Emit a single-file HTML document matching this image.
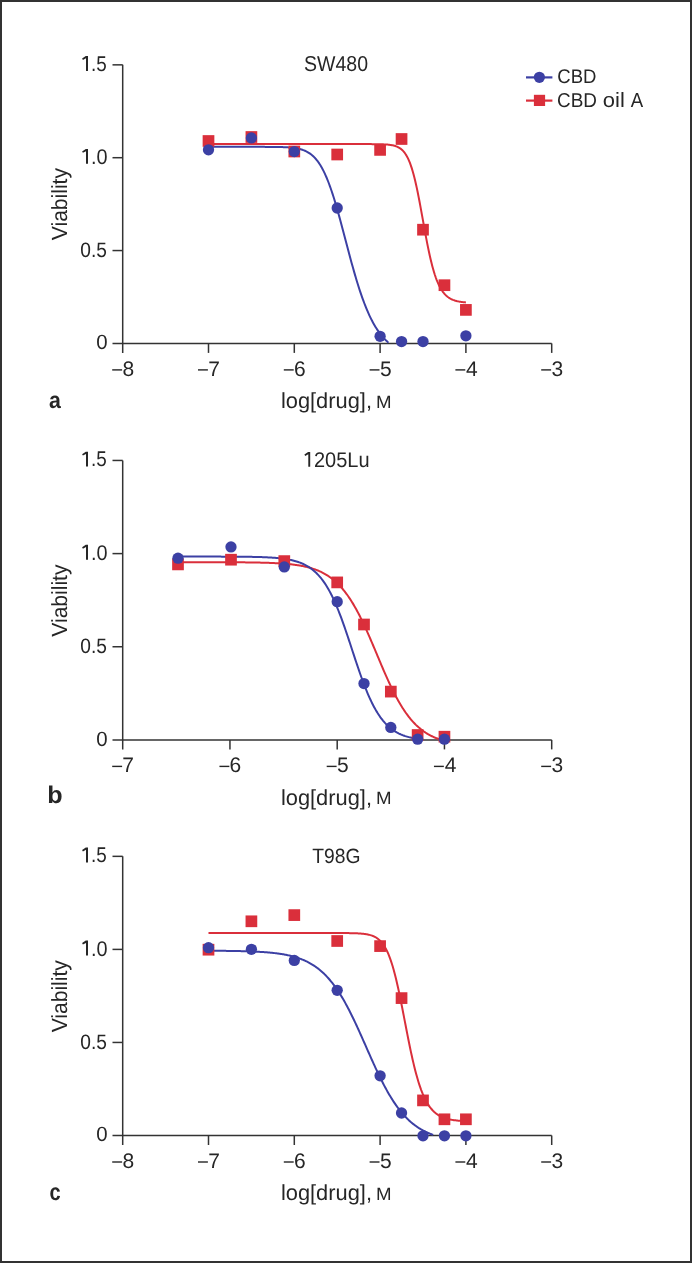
<!DOCTYPE html>
<html><head><meta charset="utf-8"><style>
html,body{margin:0;padding:0;background:#fff;}
body{width:692px;height:1263px;overflow:hidden;position:relative;}
.frame{position:absolute;left:0;top:0;width:692px;height:1263px;box-sizing:border-box;border:2px solid #323232;}
svg{position:absolute;left:0;top:0;transform:translateZ(0);}
text{font-family:"Liberation Sans",sans-serif;fill:#262626;text-rendering:geometricPrecision;}
</style></head><body>
<div class="frame"></div>
<svg width="692" height="1263" viewBox="0 0 692 1263">
<line x1="122.70" y1="64.85" x2="122.70" y2="352.90" stroke="#333333" stroke-width="1.5"/>
<line x1="112.50" y1="343.40" x2="551.70" y2="343.40" stroke="#333333" stroke-width="1.5"/>
<line x1="112.50" y1="250.55" x2="122.70" y2="250.55" stroke="#333333" stroke-width="1.5"/>
<line x1="112.50" y1="157.70" x2="122.70" y2="157.70" stroke="#333333" stroke-width="1.5"/>
<line x1="112.50" y1="64.85" x2="122.70" y2="64.85" stroke="#333333" stroke-width="1.5"/>
<line x1="208.50" y1="343.40" x2="208.50" y2="352.90" stroke="#333333" stroke-width="1.5"/>
<line x1="294.30" y1="343.40" x2="294.30" y2="352.90" stroke="#333333" stroke-width="1.5"/>
<line x1="380.10" y1="343.40" x2="380.10" y2="352.90" stroke="#333333" stroke-width="1.5"/>
<line x1="465.90" y1="343.40" x2="465.90" y2="352.90" stroke="#333333" stroke-width="1.5"/>
<line x1="551.70" y1="343.40" x2="551.70" y2="352.90" stroke="#333333" stroke-width="1.5"/>
<path d="M208.50,144.09 L209.36,144.09 L210.22,144.09 L211.08,144.09 L211.94,144.09 L212.80,144.09 L213.67,144.09 L214.53,144.09 L215.39,144.09 L216.25,144.09 L217.11,144.09 L217.97,144.09 L218.83,144.09 L219.69,144.09 L220.55,144.09 L221.41,144.09 L222.27,144.09 L223.13,144.09 L224.00,144.09 L224.86,144.09 L225.72,144.09 L226.58,144.09 L227.44,144.09 L228.30,144.09 L229.16,144.09 L230.02,144.09 L230.88,144.09 L231.74,144.09 L232.60,144.09 L233.47,144.09 L234.33,144.09 L235.19,144.09 L236.05,144.09 L236.91,144.09 L237.77,144.09 L238.63,144.09 L239.49,144.09 L240.35,144.09 L241.21,144.09 L242.07,144.09 L242.93,144.09 L243.80,144.09 L244.66,144.09 L245.52,144.09 L246.38,144.09 L247.24,144.09 L248.10,144.09 L248.96,144.09 L249.82,144.09 L250.68,144.09 L251.54,144.09 L252.40,144.09 L253.27,144.09 L254.13,144.09 L254.99,144.09 L255.85,144.09 L256.71,144.09 L257.57,144.09 L258.43,144.09 L259.29,144.09 L260.15,144.09 L261.01,144.09 L261.87,144.09 L262.73,144.09 L263.60,144.09 L264.46,144.09 L265.32,144.09 L266.18,144.09 L267.04,144.09 L267.90,144.09 L268.76,144.09 L269.62,144.09 L270.48,144.09 L271.34,144.09 L272.20,144.09 L273.07,144.09 L273.93,144.09 L274.79,144.09 L275.65,144.09 L276.51,144.09 L277.37,144.09 L278.23,144.09 L279.09,144.09 L279.95,144.09 L280.81,144.09 L281.67,144.09 L282.53,144.09 L283.40,144.09 L284.26,144.09 L285.12,144.09 L285.98,144.09 L286.84,144.09 L287.70,144.09 L288.56,144.09 L289.42,144.09 L290.28,144.09 L291.14,144.09 L292.00,144.09 L292.87,144.09 L293.73,144.09 L294.59,144.09 L295.45,144.09 L296.31,144.09 L297.17,144.09 L298.03,144.09 L298.89,144.09 L299.75,144.09 L300.61,144.09 L301.47,144.09 L302.33,144.09 L303.20,144.09 L304.06,144.09 L304.92,144.09 L305.78,144.09 L306.64,144.09 L307.50,144.09 L308.36,144.09 L309.22,144.09 L310.08,144.09 L310.94,144.09 L311.80,144.09 L312.67,144.09 L313.53,144.09 L314.39,144.09 L315.25,144.09 L316.11,144.09 L316.97,144.09 L317.83,144.09 L318.69,144.09 L319.55,144.09 L320.41,144.09 L321.27,144.09 L322.13,144.09 L323.00,144.09 L323.86,144.09 L324.72,144.09 L325.58,144.09 L326.44,144.09 L327.30,144.09 L328.16,144.09 L329.02,144.09 L329.88,144.09 L330.74,144.09 L331.60,144.09 L332.47,144.09 L333.33,144.09 L334.19,144.09 L335.05,144.09 L335.91,144.09 L336.77,144.09 L337.63,144.09 L338.49,144.09 L339.35,144.09 L340.21,144.09 L341.07,144.09 L341.93,144.09 L342.80,144.09 L343.66,144.09 L344.52,144.09 L345.38,144.09 L346.24,144.09 L347.10,144.09 L347.96,144.09 L348.82,144.09 L349.68,144.09 L350.54,144.09 L351.40,144.09 L352.27,144.09 L353.13,144.09 L353.99,144.09 L354.85,144.09 L355.71,144.09 L356.57,144.09 L357.43,144.09 L358.29,144.09 L359.15,144.09 L360.01,144.09 L360.87,144.09 L361.73,144.10 L362.60,144.10 L363.46,144.10 L364.32,144.10 L365.18,144.10 L366.04,144.10 L366.90,144.10 L367.76,144.11 L368.62,144.11 L369.48,144.11 L370.34,144.12 L371.20,144.12 L372.07,144.13 L372.93,144.13 L373.79,144.14 L374.65,144.15 L375.51,144.16 L376.37,144.17 L377.23,144.18 L378.09,144.19 L378.95,144.21 L379.81,144.23 L380.67,144.25 L381.53,144.28 L382.40,144.30 L383.26,144.34 L384.12,144.38 L384.98,144.43 L385.84,144.48 L386.70,144.54 L387.56,144.61 L388.42,144.69 L389.28,144.79 L390.14,144.90 L391.00,145.03 L391.87,145.17 L392.73,145.34 L393.59,145.54 L394.45,145.77 L395.31,146.02 L396.17,146.32 L397.03,146.66 L397.89,147.06 L398.75,147.51 L399.61,148.02 L400.47,148.61 L401.33,149.27 L402.20,150.03 L403.06,150.90 L403.92,151.87 L404.78,152.97 L405.64,154.21 L406.50,155.61 L407.36,157.17 L408.22,158.90 L409.08,160.83 L409.94,162.96 L410.80,165.31 L411.67,167.88 L412.53,170.68 L413.39,173.71 L414.25,176.98 L415.11,180.48 L415.97,184.20 L416.83,188.14 L417.69,192.27 L418.55,196.58 L419.41,201.05 L420.27,205.64 L421.13,210.33 L422.00,215.08 L422.86,219.86 L423.72,224.64 L424.58,229.38 L425.44,234.06 L426.30,238.63 L427.16,243.08 L428.02,247.39 L428.88,251.53 L429.74,255.48 L430.60,259.24 L431.47,262.80 L432.33,266.15 L433.19,269.29 L434.05,272.22 L434.91,274.95 L435.77,277.47 L436.63,279.81 L437.49,281.96 L438.35,283.94 L439.21,285.75 L440.07,287.41 L440.93,288.92 L441.80,290.30 L442.66,291.55 L443.52,292.68 L444.38,293.71 L445.24,294.65 L446.10,295.49 L446.96,296.25 L447.82,296.94 L448.68,297.56 L449.54,298.12 L450.40,298.62 L451.27,299.07 L452.13,299.48 L452.99,299.85 L453.85,300.17 L454.71,300.47 L455.57,300.73 L456.43,300.97 L457.29,301.19 L458.15,301.38 L459.01,301.55 L459.87,301.70 L460.73,301.84 L461.60,301.96 L462.46,302.08 L463.32,302.17 L464.18,302.26 L465.04,302.34 L465.90,302.41" fill="none" stroke="#da2f3b" stroke-width="2.0" stroke-linejoin="round"/>
<path d="M208.50,146.85 L209.36,146.85 L210.22,146.85 L211.08,146.85 L211.94,146.85 L212.80,146.85 L213.67,146.85 L214.53,146.85 L215.39,146.85 L216.25,146.85 L217.11,146.85 L217.97,146.85 L218.83,146.85 L219.69,146.85 L220.55,146.85 L221.41,146.85 L222.27,146.85 L223.13,146.85 L224.00,146.85 L224.86,146.85 L225.72,146.85 L226.58,146.85 L227.44,146.85 L228.30,146.85 L229.16,146.85 L230.02,146.85 L230.88,146.85 L231.74,146.85 L232.60,146.85 L233.47,146.85 L234.33,146.85 L235.19,146.85 L236.05,146.85 L236.91,146.85 L237.77,146.85 L238.63,146.85 L239.49,146.85 L240.35,146.85 L241.21,146.85 L242.07,146.85 L242.93,146.85 L243.80,146.85 L244.66,146.85 L245.52,146.85 L246.38,146.85 L247.24,146.85 L248.10,146.85 L248.96,146.85 L249.82,146.85 L250.68,146.85 L251.54,146.85 L252.40,146.85 L253.27,146.85 L254.13,146.85 L254.99,146.85 L255.85,146.86 L256.71,146.86 L257.57,146.86 L258.43,146.86 L259.29,146.86 L260.15,146.86 L261.01,146.86 L261.87,146.87 L262.73,146.87 L263.60,146.87 L264.46,146.87 L265.32,146.88 L266.18,146.88 L267.04,146.88 L267.90,146.89 L268.76,146.89 L269.62,146.90 L270.48,146.91 L271.34,146.91 L272.20,146.92 L273.07,146.93 L273.93,146.94 L274.79,146.95 L275.65,146.96 L276.51,146.97 L277.37,146.99 L278.23,147.00 L279.09,147.02 L279.95,147.04 L280.81,147.07 L281.67,147.09 L282.53,147.12 L283.40,147.15 L284.26,147.18 L285.12,147.22 L285.98,147.26 L286.84,147.31 L287.70,147.36 L288.56,147.42 L289.42,147.49 L290.28,147.56 L291.14,147.63 L292.00,147.72 L292.87,147.82 L293.73,147.92 L294.59,148.04 L295.45,148.17 L296.31,148.31 L297.17,148.46 L298.03,148.64 L298.89,148.82 L299.75,149.03 L300.61,149.26 L301.47,149.51 L302.33,149.78 L303.20,150.08 L304.06,150.40 L304.92,150.76 L305.78,151.15 L306.64,151.57 L307.50,152.03 L308.36,152.53 L309.22,153.07 L310.08,153.66 L310.94,154.29 L311.80,154.98 L312.67,155.72 L313.53,156.52 L314.39,157.38 L315.25,158.30 L316.11,159.28 L316.97,160.34 L317.83,161.47 L318.69,162.67 L319.55,163.96 L320.41,165.32 L321.27,166.76 L322.13,168.29 L323.00,169.91 L323.86,171.62 L324.72,173.41 L325.58,175.30 L326.44,177.27 L327.30,179.34 L328.16,181.50 L329.02,183.74 L329.88,186.08 L330.74,188.51 L331.60,191.01 L332.47,193.61 L333.33,196.28 L334.19,199.03 L335.05,201.85 L335.91,204.73 L336.77,207.69 L337.63,210.70 L338.49,213.76 L339.35,216.87 L340.21,220.03 L341.07,223.22 L341.93,226.44 L342.80,229.69 L343.66,232.95 L344.52,236.23 L345.38,239.51 L346.24,242.79 L347.10,246.06 L347.96,249.33 L348.82,252.57 L349.68,255.79 L350.54,258.99 L351.40,262.15 L352.27,265.27 L353.13,268.35 L353.99,271.39 L354.85,274.37 L355.71,277.31 L356.57,280.19 L357.43,283.00 L358.29,285.76 L359.15,288.46 L360.01,291.09 L360.87,293.65 L361.73,296.15 L362.60,298.58 L363.46,300.94 L364.32,303.23 L365.18,305.45 L366.04,307.61 L366.90,309.69 L367.76,311.71 L368.62,313.65 L369.48,315.54 L370.34,317.35 L371.20,319.10 L372.07,320.79 L372.93,322.41 L373.79,323.98 L374.65,325.48 L375.51,326.92 L376.37,328.31 L377.23,329.64 L378.09,330.92 L378.95,332.15 L379.81,333.32 L380.67,334.45 L381.53,335.53 L382.40,336.56 L383.26,337.55 L384.12,338.50 L384.98,339.40 L385.84,340.27 L386.70,341.09 L387.56,341.88 L388.42,342.64" fill="none" stroke="#3c40a4" stroke-width="2.0" stroke-linejoin="round"/>
<rect x="202.65" y="135.15" width="11.7" height="11.7" fill="#da2f3b"/>
<rect x="245.55" y="131.15" width="11.7" height="11.7" fill="#da2f3b"/>
<rect x="288.45" y="145.65" width="11.7" height="11.7" fill="#da2f3b"/>
<rect x="331.35" y="148.65" width="11.7" height="11.7" fill="#da2f3b"/>
<rect x="374.25" y="144.05" width="11.7" height="11.7" fill="#da2f3b"/>
<rect x="395.70" y="133.15" width="11.7" height="11.7" fill="#da2f3b"/>
<rect x="417.15" y="223.85" width="11.7" height="11.7" fill="#da2f3b"/>
<rect x="438.60" y="279.35" width="11.7" height="11.7" fill="#da2f3b"/>
<rect x="460.05" y="304.05" width="11.7" height="11.7" fill="#da2f3b"/>
<circle cx="208.50" cy="149.80" r="5.65" fill="#3c40a4"/>
<circle cx="251.40" cy="137.90" r="5.65" fill="#3c40a4"/>
<circle cx="294.30" cy="151.60" r="5.65" fill="#3c40a4"/>
<circle cx="337.20" cy="208.00" r="5.65" fill="#3c40a4"/>
<circle cx="380.10" cy="336.30" r="5.65" fill="#3c40a4"/>
<circle cx="401.55" cy="341.60" r="5.65" fill="#3c40a4"/>
<circle cx="423.00" cy="341.60" r="5.65" fill="#3c40a4"/>
<circle cx="465.90" cy="335.80" r="5.65" fill="#3c40a4"/>
<path d="M85.80,148.90 L88.00,148.90 L88.00,163.80 L86.00,163.80 L86.00,151.20 L82.90,152.80 L82.10,151.40 Z" fill="#262626"/>
<path d="M85.80,56.05 L88.00,56.05 L88.00,70.95 L86.00,70.95 L86.00,58.35 L82.90,59.95 L82.10,58.55 Z" fill="#262626"/>
<rect x="112.20" y="369.20" width="9.9" height="1.4" fill="#262626"/>
<rect x="198.00" y="369.20" width="9.9" height="1.4" fill="#262626"/>
<rect x="283.80" y="369.20" width="9.9" height="1.4" fill="#262626"/>
<rect x="369.60" y="369.20" width="9.9" height="1.4" fill="#262626"/>
<rect x="455.40" y="369.20" width="9.9" height="1.4" fill="#262626"/>
<rect x="541.20" y="369.20" width="9.9" height="1.4" fill="#262626"/>
<line x1="122.70" y1="460.45" x2="122.70" y2="749.40" stroke="#333333" stroke-width="1.5"/>
<line x1="112.50" y1="739.90" x2="551.70" y2="739.90" stroke="#333333" stroke-width="1.5"/>
<line x1="112.50" y1="646.75" x2="122.70" y2="646.75" stroke="#333333" stroke-width="1.5"/>
<line x1="112.50" y1="553.60" x2="122.70" y2="553.60" stroke="#333333" stroke-width="1.5"/>
<line x1="112.50" y1="460.45" x2="122.70" y2="460.45" stroke="#333333" stroke-width="1.5"/>
<line x1="229.95" y1="739.90" x2="229.95" y2="749.40" stroke="#333333" stroke-width="1.5"/>
<line x1="337.20" y1="739.90" x2="337.20" y2="749.40" stroke="#333333" stroke-width="1.5"/>
<line x1="444.45" y1="739.90" x2="444.45" y2="749.40" stroke="#333333" stroke-width="1.5"/>
<line x1="551.70" y1="739.90" x2="551.70" y2="749.40" stroke="#333333" stroke-width="1.5"/>
<path d="M178.00,562.17 L178.89,562.17 L179.78,562.17 L180.67,562.17 L181.56,562.17 L182.46,562.17 L183.35,562.17 L184.24,562.17 L185.13,562.17 L186.02,562.17 L186.91,562.17 L187.80,562.17 L188.69,562.17 L189.58,562.17 L190.48,562.18 L191.37,562.18 L192.26,562.18 L193.15,562.18 L194.04,562.18 L194.93,562.18 L195.82,562.18 L196.71,562.18 L197.61,562.18 L198.50,562.18 L199.39,562.18 L200.28,562.18 L201.17,562.18 L202.06,562.19 L202.95,562.19 L203.84,562.19 L204.73,562.19 L205.63,562.19 L206.52,562.19 L207.41,562.19 L208.30,562.19 L209.19,562.20 L210.08,562.20 L210.97,562.20 L211.86,562.20 L212.75,562.20 L213.65,562.20 L214.54,562.21 L215.43,562.21 L216.32,562.21 L217.21,562.21 L218.10,562.21 L218.99,562.22 L219.88,562.22 L220.77,562.22 L221.67,562.22 L222.56,562.23 L223.45,562.23 L224.34,562.23 L225.23,562.24 L226.12,562.24 L227.01,562.24 L227.90,562.25 L228.79,562.25 L229.69,562.26 L230.58,562.26 L231.47,562.27 L232.36,562.27 L233.25,562.28 L234.14,562.28 L235.03,562.29 L235.92,562.29 L236.82,562.30 L237.71,562.30 L238.60,562.31 L239.49,562.32 L240.38,562.33 L241.27,562.33 L242.16,562.34 L243.05,562.35 L243.94,562.36 L244.84,562.37 L245.73,562.38 L246.62,562.39 L247.51,562.40 L248.40,562.41 L249.29,562.42 L250.18,562.43 L251.07,562.44 L251.96,562.46 L252.86,562.47 L253.75,562.49 L254.64,562.50 L255.53,562.52 L256.42,562.53 L257.31,562.55 L258.20,562.57 L259.09,562.59 L259.98,562.61 L260.88,562.63 L261.77,562.65 L262.66,562.67 L263.55,562.70 L264.44,562.72 L265.33,562.75 L266.22,562.78 L267.11,562.80 L268.00,562.83 L268.90,562.87 L269.79,562.90 L270.68,562.93 L271.57,562.97 L272.46,563.01 L273.35,563.05 L274.24,563.09 L275.13,563.13 L276.03,563.17 L276.92,563.22 L277.81,563.27 L278.70,563.32 L279.59,563.38 L280.48,563.43 L281.37,563.49 L282.26,563.55 L283.15,563.62 L284.05,563.69 L284.94,563.76 L285.83,563.83 L286.72,563.91 L287.61,563.99 L288.50,564.08 L289.39,564.16 L290.28,564.26 L291.17,564.35 L292.07,564.46 L292.96,564.56 L293.85,564.67 L294.74,564.79 L295.63,564.91 L296.52,565.04 L297.41,565.17 L298.30,565.31 L299.19,565.45 L300.09,565.60 L300.98,565.76 L301.87,565.93 L302.76,566.10 L303.65,566.28 L304.54,566.47 L305.43,566.67 L306.32,566.87 L307.21,567.09 L308.11,567.31 L309.00,567.55 L309.89,567.79 L310.78,568.05 L311.67,568.32 L312.56,568.60 L313.45,568.89 L314.34,569.19 L315.24,569.51 L316.13,569.84 L317.02,570.18 L317.91,570.54 L318.80,570.92 L319.69,571.31 L320.58,571.71 L321.47,572.14 L322.36,572.58 L323.26,573.04 L324.15,573.52 L325.04,574.02 L325.93,574.54 L326.82,575.08 L327.71,575.64 L328.60,576.23 L329.49,576.84 L330.38,577.47 L331.28,578.13 L332.17,578.81 L333.06,579.52 L333.95,580.25 L334.84,581.02 L335.73,581.81 L336.62,582.63 L337.51,583.48 L338.40,584.36 L339.30,585.28 L340.19,586.22 L341.08,587.20 L341.97,588.21 L342.86,589.26 L343.75,590.34 L344.64,591.45 L345.53,592.60 L346.42,593.79 L347.32,595.02 L348.21,596.28 L349.10,597.57 L349.99,598.91 L350.88,600.28 L351.77,601.69 L352.66,603.14 L353.55,604.63 L354.45,606.15 L355.34,607.71 L356.23,609.31 L357.12,610.94 L358.01,612.61 L358.90,614.32 L359.79,616.06 L360.68,617.83 L361.57,619.64 L362.47,621.48 L363.36,623.35 L364.25,625.25 L365.14,627.17 L366.03,629.13 L366.92,631.10 L367.81,633.11 L368.70,635.13 L369.59,637.17 L370.49,639.23 L371.38,641.31 L372.27,643.40 L373.16,645.50 L374.05,647.61 L374.94,649.73 L375.83,651.85 L376.72,653.97 L377.61,656.10 L378.51,658.22 L379.40,660.34 L380.29,662.46 L381.18,664.56 L382.07,666.66 L382.96,668.74 L383.85,670.81 L384.74,672.85 L385.63,674.89 L386.53,676.89 L387.42,678.88 L388.31,680.84 L389.20,682.78 L390.09,684.69 L390.98,686.57 L391.87,688.42 L392.76,690.24 L393.66,692.02 L394.55,693.78 L395.44,695.49 L396.33,697.18 L397.22,698.82 L398.11,700.43 L399.00,702.00 L399.89,703.54 L400.78,705.04 L401.68,706.50 L402.57,707.92 L403.46,709.30 L404.35,710.65 L405.24,711.96 L406.13,713.23 L407.02,714.46 L407.91,715.66 L408.80,716.82 L409.70,717.95 L410.59,719.04 L411.48,720.09 L412.37,721.11 L413.26,722.09 L414.15,723.05 L415.04,723.97 L415.93,724.86 L416.82,725.71 L417.72,726.54 L418.61,727.34 L419.50,728.10 L420.39,728.85 L421.28,729.56 L422.17,730.24 L423.06,730.90 L423.95,731.54 L424.84,732.15 L425.74,732.74 L426.63,733.30 L427.52,733.85 L428.41,734.37 L429.30,734.87 L430.19,735.35 L431.08,735.81 L431.97,736.25 L432.87,736.68 L433.76,737.09 L434.65,737.48 L435.54,737.85 L436.43,738.21 L437.32,738.55 L438.21,738.88 L439.10,739.20 L439.99,739.50" fill="none" stroke="#da2f3b" stroke-width="2.0" stroke-linejoin="round"/>
<path d="M178.00,556.59 L178.89,556.59 L179.78,556.59 L180.67,556.59 L181.56,556.59 L182.46,556.59 L183.35,556.59 L184.24,556.59 L185.13,556.59 L186.02,556.59 L186.91,556.59 L187.80,556.59 L188.69,556.59 L189.58,556.59 L190.48,556.59 L191.37,556.59 L192.26,556.59 L193.15,556.59 L194.04,556.59 L194.93,556.59 L195.82,556.59 L196.71,556.59 L197.61,556.59 L198.50,556.59 L199.39,556.60 L200.28,556.60 L201.17,556.60 L202.06,556.60 L202.95,556.60 L203.84,556.60 L204.73,556.60 L205.63,556.60 L206.52,556.60 L207.41,556.60 L208.30,556.60 L209.19,556.60 L210.08,556.60 L210.97,556.61 L211.86,556.61 L212.75,556.61 L213.65,556.61 L214.54,556.61 L215.43,556.61 L216.32,556.61 L217.21,556.62 L218.10,556.62 L218.99,556.62 L219.88,556.62 L220.77,556.62 L221.67,556.63 L222.56,556.63 L223.45,556.63 L224.34,556.63 L225.23,556.64 L226.12,556.64 L227.01,556.64 L227.90,556.65 L228.79,556.65 L229.69,556.65 L230.58,556.66 L231.47,556.66 L232.36,556.67 L233.25,556.67 L234.14,556.68 L235.03,556.68 L235.92,556.69 L236.82,556.69 L237.71,556.70 L238.60,556.71 L239.49,556.71 L240.38,556.72 L241.27,556.73 L242.16,556.74 L243.05,556.75 L243.94,556.76 L244.84,556.76 L245.73,556.78 L246.62,556.79 L247.51,556.80 L248.40,556.81 L249.29,556.82 L250.18,556.84 L251.07,556.85 L251.96,556.87 L252.86,556.89 L253.75,556.90 L254.64,556.92 L255.53,556.94 L256.42,556.96 L257.31,556.99 L258.20,557.01 L259.09,557.03 L259.98,557.06 L260.88,557.09 L261.77,557.12 L262.66,557.15 L263.55,557.18 L264.44,557.22 L265.33,557.25 L266.22,557.29 L267.11,557.33 L268.00,557.38 L268.90,557.43 L269.79,557.47 L270.68,557.53 L271.57,557.58 L272.46,557.64 L273.35,557.70 L274.24,557.77 L275.13,557.84 L276.03,557.91 L276.92,557.99 L277.81,558.07 L278.70,558.16 L279.59,558.25 L280.48,558.35 L281.37,558.45 L282.26,558.56 L283.15,558.67 L284.05,558.80 L284.94,558.92 L285.83,559.06 L286.72,559.21 L287.61,559.36 L288.50,559.52 L289.39,559.69 L290.28,559.87 L291.17,560.06 L292.07,560.26 L292.96,560.48 L293.85,560.70 L294.74,560.94 L295.63,561.19 L296.52,561.45 L297.41,561.74 L298.30,562.03 L299.19,562.34 L300.09,562.67 L300.98,563.02 L301.87,563.39 L302.76,563.78 L303.65,564.19 L304.54,564.62 L305.43,565.07 L306.32,565.55 L307.21,566.06 L308.11,566.59 L309.00,567.15 L309.89,567.74 L310.78,568.36 L311.67,569.01 L312.56,569.70 L313.45,570.42 L314.34,571.18 L315.24,571.97 L316.13,572.81 L317.02,573.69 L317.91,574.61 L318.80,575.57 L319.69,576.58 L320.58,577.64 L321.47,578.74 L322.36,579.90 L323.26,581.11 L324.15,582.37 L325.04,583.68 L325.93,585.05 L326.82,586.48 L327.71,587.97 L328.60,589.51 L329.49,591.12 L330.38,592.78 L331.28,594.51 L332.17,596.30 L333.06,598.14 L333.95,600.05 L334.84,602.02 L335.73,604.05 L336.62,606.15 L337.51,608.29 L338.40,610.50 L339.30,612.76 L340.19,615.08 L341.08,617.45 L341.97,619.86 L342.86,622.33 L343.75,624.83 L344.64,627.38 L345.53,629.96 L346.42,632.57 L347.32,635.22 L348.21,637.89 L349.10,640.58 L349.99,643.28 L350.88,646.00 L351.77,648.72 L352.66,651.44 L353.55,654.16 L354.45,656.87 L355.34,659.57 L356.23,662.26 L357.12,664.92 L358.01,667.55 L358.90,670.16 L359.79,672.73 L360.68,675.26 L361.57,677.75 L362.47,680.20 L363.36,682.59 L364.25,684.94 L365.14,687.23 L366.03,689.47 L366.92,691.66 L367.81,693.78 L368.70,695.84 L369.59,697.85 L370.49,699.79 L371.38,701.67 L372.27,703.48 L373.16,705.24 L374.05,706.93 L374.94,708.56 L375.83,710.13 L376.72,711.63 L377.61,713.08 L378.51,714.47 L379.40,715.80 L380.29,717.08 L381.18,718.30 L382.07,719.47 L382.96,720.59 L383.85,721.65 L384.74,722.67 L385.63,723.64 L386.53,724.56 L387.42,725.44 L388.31,726.28 L389.20,727.07 L390.09,727.83 L390.98,728.55 L391.87,729.23 L392.76,729.88 L393.66,730.50 L394.55,731.08 L395.44,731.64 L396.33,732.16 L397.22,732.66 L398.11,733.13 L399.00,733.58 L399.89,734.00 L400.78,734.40 L401.68,734.78 L402.57,735.14 L403.46,735.47 L404.35,735.79 L405.24,736.10 L406.13,736.38 L407.02,736.65 L407.91,736.91 L408.80,737.15 L409.70,737.38 L410.59,737.59 L411.48,737.79 L412.37,737.99 L413.26,738.17 L414.15,738.34 L415.04,738.50 L415.93,738.65 L416.82,738.79 L417.72,738.93 L418.61,739.06 L419.50,739.18 L420.39,739.29 L421.28,739.40 L422.17,739.50 L423.06,739.59" fill="none" stroke="#3c40a4" stroke-width="2.0" stroke-linejoin="round"/>
<rect x="172.15" y="558.55" width="11.7" height="11.7" fill="#da2f3b"/>
<rect x="225.15" y="553.85" width="11.7" height="11.7" fill="#da2f3b"/>
<rect x="278.45" y="555.25" width="11.7" height="11.7" fill="#da2f3b"/>
<rect x="331.35" y="576.55" width="11.7" height="11.7" fill="#da2f3b"/>
<rect x="358.16" y="618.65" width="11.7" height="11.7" fill="#da2f3b"/>
<rect x="384.98" y="685.75" width="11.7" height="11.7" fill="#da2f3b"/>
<rect x="411.79" y="729.15" width="11.7" height="11.7" fill="#da2f3b"/>
<rect x="438.60" y="730.85" width="11.7" height="11.7" fill="#da2f3b"/>
<circle cx="178.00" cy="558.20" r="5.65" fill="#3c40a4"/>
<circle cx="231.00" cy="546.90" r="5.65" fill="#3c40a4"/>
<circle cx="284.30" cy="566.90" r="5.65" fill="#3c40a4"/>
<circle cx="337.20" cy="601.70" r="5.65" fill="#3c40a4"/>
<circle cx="364.01" cy="683.60" r="5.65" fill="#3c40a4"/>
<circle cx="390.83" cy="727.40" r="5.65" fill="#3c40a4"/>
<circle cx="417.64" cy="739.20" r="5.65" fill="#3c40a4"/>
<circle cx="444.45" cy="739.20" r="5.65" fill="#3c40a4"/>
<path d="M85.80,544.80 L88.00,544.80 L88.00,559.70 L86.00,559.70 L86.00,547.10 L82.90,548.70 L82.10,547.30 Z" fill="#262626"/>
<path d="M85.80,451.65 L88.00,451.65 L88.00,466.55 L86.00,466.55 L86.00,453.95 L82.90,455.55 L82.10,454.15 Z" fill="#262626"/>
<rect x="112.20" y="765.70" width="9.9" height="1.4" fill="#262626"/>
<rect x="219.45" y="765.70" width="9.9" height="1.4" fill="#262626"/>
<rect x="326.70" y="765.70" width="9.9" height="1.4" fill="#262626"/>
<rect x="433.95" y="765.70" width="9.9" height="1.4" fill="#262626"/>
<rect x="541.20" y="765.70" width="9.9" height="1.4" fill="#262626"/>
<path d="M308.10,452.00 L310.20,452.00 L310.20,466.80 L308.30,466.80 L308.30,454.30 L305.20,455.90 L304.40,454.50 Z" fill="#262626"/>
<line x1="122.70" y1="856.35" x2="122.70" y2="1145.00" stroke="#333333" stroke-width="1.5"/>
<line x1="112.50" y1="1135.50" x2="551.70" y2="1135.50" stroke="#333333" stroke-width="1.5"/>
<line x1="112.50" y1="1042.45" x2="122.70" y2="1042.45" stroke="#333333" stroke-width="1.5"/>
<line x1="112.50" y1="949.40" x2="122.70" y2="949.40" stroke="#333333" stroke-width="1.5"/>
<line x1="112.50" y1="856.35" x2="122.70" y2="856.35" stroke="#333333" stroke-width="1.5"/>
<line x1="208.50" y1="1135.50" x2="208.50" y2="1145.00" stroke="#333333" stroke-width="1.5"/>
<line x1="294.30" y1="1135.50" x2="294.30" y2="1145.00" stroke="#333333" stroke-width="1.5"/>
<line x1="380.10" y1="1135.50" x2="380.10" y2="1145.00" stroke="#333333" stroke-width="1.5"/>
<line x1="465.90" y1="1135.50" x2="465.90" y2="1145.00" stroke="#333333" stroke-width="1.5"/>
<line x1="551.70" y1="1135.50" x2="551.70" y2="1145.00" stroke="#333333" stroke-width="1.5"/>
<path d="M208.50,933.02 L209.36,933.02 L210.22,933.02 L211.08,933.02 L211.94,933.02 L212.80,933.02 L213.67,933.02 L214.53,933.02 L215.39,933.02 L216.25,933.02 L217.11,933.02 L217.97,933.02 L218.83,933.02 L219.69,933.02 L220.55,933.02 L221.41,933.02 L222.27,933.02 L223.13,933.02 L224.00,933.02 L224.86,933.02 L225.72,933.02 L226.58,933.02 L227.44,933.02 L228.30,933.02 L229.16,933.02 L230.02,933.02 L230.88,933.02 L231.74,933.02 L232.60,933.02 L233.47,933.02 L234.33,933.02 L235.19,933.02 L236.05,933.02 L236.91,933.02 L237.77,933.02 L238.63,933.02 L239.49,933.02 L240.35,933.02 L241.21,933.02 L242.07,933.02 L242.93,933.02 L243.80,933.02 L244.66,933.02 L245.52,933.02 L246.38,933.02 L247.24,933.02 L248.10,933.02 L248.96,933.02 L249.82,933.02 L250.68,933.02 L251.54,933.02 L252.40,933.02 L253.27,933.02 L254.13,933.02 L254.99,933.02 L255.85,933.02 L256.71,933.02 L257.57,933.02 L258.43,933.02 L259.29,933.02 L260.15,933.02 L261.01,933.02 L261.87,933.02 L262.73,933.02 L263.60,933.02 L264.46,933.02 L265.32,933.02 L266.18,933.02 L267.04,933.02 L267.90,933.02 L268.76,933.02 L269.62,933.02 L270.48,933.02 L271.34,933.02 L272.20,933.02 L273.07,933.02 L273.93,933.02 L274.79,933.02 L275.65,933.02 L276.51,933.02 L277.37,933.02 L278.23,933.02 L279.09,933.02 L279.95,933.02 L280.81,933.02 L281.67,933.02 L282.53,933.02 L283.40,933.02 L284.26,933.02 L285.12,933.02 L285.98,933.02 L286.84,933.02 L287.70,933.02 L288.56,933.02 L289.42,933.02 L290.28,933.02 L291.14,933.02 L292.00,933.02 L292.87,933.02 L293.73,933.02 L294.59,933.02 L295.45,933.02 L296.31,933.02 L297.17,933.02 L298.03,933.02 L298.89,933.02 L299.75,933.02 L300.61,933.02 L301.47,933.02 L302.33,933.02 L303.20,933.02 L304.06,933.02 L304.92,933.02 L305.78,933.02 L306.64,933.02 L307.50,933.02 L308.36,933.02 L309.22,933.02 L310.08,933.02 L310.94,933.02 L311.80,933.02 L312.67,933.02 L313.53,933.02 L314.39,933.02 L315.25,933.02 L316.11,933.02 L316.97,933.02 L317.83,933.02 L318.69,933.02 L319.55,933.02 L320.41,933.03 L321.27,933.03 L322.13,933.03 L323.00,933.03 L323.86,933.03 L324.72,933.03 L325.58,933.03 L326.44,933.03 L327.30,933.03 L328.16,933.03 L329.02,933.03 L329.88,933.03 L330.74,933.03 L331.60,933.03 L332.47,933.03 L333.33,933.03 L334.19,933.04 L335.05,933.04 L335.91,933.04 L336.77,933.04 L337.63,933.04 L338.49,933.05 L339.35,933.05 L340.21,933.05 L341.07,933.06 L341.93,933.06 L342.80,933.06 L343.66,933.07 L344.52,933.08 L345.38,933.08 L346.24,933.09 L347.10,933.10 L347.96,933.11 L348.82,933.12 L349.68,933.13 L350.54,933.15 L351.40,933.16 L352.27,933.18 L353.13,933.20 L353.99,933.23 L354.85,933.26 L355.71,933.29 L356.57,933.32 L357.43,933.36 L358.29,933.40 L359.15,933.45 L360.01,933.51 L360.87,933.57 L361.73,933.64 L362.60,933.72 L363.46,933.82 L364.32,933.92 L365.18,934.03 L366.04,934.16 L366.90,934.31 L367.76,934.47 L368.62,934.66 L369.48,934.87 L370.34,935.10 L371.20,935.36 L372.07,935.66 L372.93,935.99 L373.79,936.36 L374.65,936.77 L375.51,937.23 L376.37,937.74 L377.23,938.31 L378.09,938.95 L378.95,939.66 L379.81,940.44 L380.67,941.31 L381.53,942.27 L382.40,943.33 L383.26,944.49 L384.12,945.77 L384.98,947.18 L385.84,948.71 L386.70,950.38 L387.56,952.20 L388.42,954.17 L389.28,956.30 L390.14,958.60 L391.00,961.06 L391.87,963.70 L392.73,966.52 L393.59,969.51 L394.45,972.67 L395.31,976.00 L396.17,979.50 L397.03,983.16 L397.89,986.96 L398.75,990.91 L399.61,994.98 L400.47,999.16 L401.33,1003.43 L402.20,1007.78 L403.06,1012.19 L403.92,1016.63 L404.78,1021.10 L405.64,1025.56 L406.50,1030.01 L407.36,1034.42 L408.22,1038.77 L409.08,1043.05 L409.94,1047.25 L410.80,1051.34 L411.67,1055.32 L412.53,1059.17 L413.39,1062.90 L414.25,1066.48 L415.11,1069.92 L415.97,1073.21 L416.83,1076.36 L417.69,1079.34 L418.55,1082.18 L419.41,1084.87 L420.27,1087.41 L421.13,1089.81 L422.00,1092.06 L422.86,1094.18 L423.72,1096.17 L424.58,1098.03 L425.44,1099.77 L426.30,1101.39 L427.16,1102.91 L428.02,1104.32 L428.88,1105.63 L429.74,1106.85 L430.60,1107.98 L431.47,1109.03 L432.33,1110.01 L433.19,1110.91 L434.05,1111.75 L434.91,1112.52 L435.77,1113.23 L436.63,1113.89 L437.49,1114.50 L438.35,1115.06 L439.21,1115.58 L440.07,1116.06 L440.93,1116.50 L441.80,1116.91 L442.66,1117.28 L443.52,1117.63 L444.38,1117.95 L445.24,1118.24 L446.10,1118.51 L446.96,1118.75 L447.82,1118.98 L448.68,1119.19 L449.54,1119.38 L450.40,1119.56 L451.27,1119.72 L452.13,1119.87 L452.99,1120.01 L453.85,1120.14 L454.71,1120.26 L455.57,1120.36 L456.43,1120.46 L457.29,1120.55 L458.15,1120.63 L459.01,1120.71 L459.87,1120.78 L460.73,1120.84 L461.60,1120.90 L462.46,1120.96 L463.32,1121.01 L464.18,1121.05 L465.04,1121.09 L465.90,1121.13" fill="none" stroke="#da2f3b" stroke-width="2.0" stroke-linejoin="round"/>
<path d="M208.50,950.73 L209.36,950.74 L210.22,950.74 L211.08,950.75 L211.94,950.75 L212.80,950.76 L213.67,950.76 L214.53,950.77 L215.39,950.77 L216.25,950.78 L217.11,950.79 L217.97,950.79 L218.83,950.80 L219.69,950.81 L220.55,950.82 L221.41,950.82 L222.27,950.83 L223.13,950.84 L224.00,950.85 L224.86,950.86 L225.72,950.87 L226.58,950.88 L227.44,950.89 L228.30,950.90 L229.16,950.91 L230.02,950.92 L230.88,950.94 L231.74,950.95 L232.60,950.96 L233.47,950.98 L234.33,950.99 L235.19,951.01 L236.05,951.02 L236.91,951.04 L237.77,951.06 L238.63,951.08 L239.49,951.09 L240.35,951.11 L241.21,951.14 L242.07,951.16 L242.93,951.18 L243.80,951.20 L244.66,951.23 L245.52,951.25 L246.38,951.28 L247.24,951.30 L248.10,951.33 L248.96,951.36 L249.82,951.39 L250.68,951.42 L251.54,951.46 L252.40,951.49 L253.27,951.53 L254.13,951.57 L254.99,951.61 L255.85,951.65 L256.71,951.69 L257.57,951.73 L258.43,951.78 L259.29,951.83 L260.15,951.88 L261.01,951.93 L261.87,951.98 L262.73,952.04 L263.60,952.10 L264.46,952.16 L265.32,952.22 L266.18,952.29 L267.04,952.36 L267.90,952.43 L268.76,952.50 L269.62,952.58 L270.48,952.66 L271.34,952.75 L272.20,952.84 L273.07,952.93 L273.93,953.02 L274.79,953.12 L275.65,953.22 L276.51,953.33 L277.37,953.44 L278.23,953.56 L279.09,953.68 L279.95,953.80 L280.81,953.93 L281.67,954.07 L282.53,954.21 L283.40,954.36 L284.26,954.51 L285.12,954.67 L285.98,954.84 L286.84,955.01 L287.70,955.19 L288.56,955.37 L289.42,955.57 L290.28,955.77 L291.14,955.98 L292.00,956.19 L292.87,956.42 L293.73,956.65 L294.59,956.90 L295.45,957.15 L296.31,957.41 L297.17,957.69 L298.03,957.97 L298.89,958.26 L299.75,958.57 L300.61,958.89 L301.47,959.22 L302.33,959.56 L303.20,959.91 L304.06,960.28 L304.92,960.66 L305.78,961.06 L306.64,961.47 L307.50,961.90 L308.36,962.34 L309.22,962.80 L310.08,963.27 L310.94,963.77 L311.80,964.27 L312.67,964.80 L313.53,965.35 L314.39,965.91 L315.25,966.50 L316.11,967.10 L316.97,967.73 L317.83,968.38 L318.69,969.05 L319.55,969.74 L320.41,970.46 L321.27,971.19 L322.13,971.96 L323.00,972.74 L323.86,973.56 L324.72,974.39 L325.58,975.26 L326.44,976.15 L327.30,977.07 L328.16,978.01 L329.02,978.98 L329.88,979.99 L330.74,981.02 L331.60,982.08 L332.47,983.16 L333.33,984.28 L334.19,985.43 L335.05,986.61 L335.91,987.82 L336.77,989.06 L337.63,990.33 L338.49,991.63 L339.35,992.96 L340.21,994.32 L341.07,995.71 L341.93,997.14 L342.80,998.59 L343.66,1000.07 L344.52,1001.59 L345.38,1003.13 L346.24,1004.70 L347.10,1006.30 L347.96,1007.92 L348.82,1009.57 L349.68,1011.25 L350.54,1012.96 L351.40,1014.68 L352.27,1016.44 L353.13,1018.21 L353.99,1020.00 L354.85,1021.82 L355.71,1023.66 L356.57,1025.51 L357.43,1027.38 L358.29,1029.26 L359.15,1031.16 L360.01,1033.07 L360.87,1034.99 L361.73,1036.92 L362.60,1038.86 L363.46,1040.81 L364.32,1042.76 L365.18,1044.71 L366.04,1046.66 L366.90,1048.62 L367.76,1050.57 L368.62,1052.52 L369.48,1054.46 L370.34,1056.40 L371.20,1058.33 L372.07,1060.25 L372.93,1062.16 L373.79,1064.05 L374.65,1065.93 L375.51,1067.80 L376.37,1069.65 L377.23,1071.48 L378.09,1073.29 L378.95,1075.08 L379.81,1076.85 L380.67,1078.60 L381.53,1080.32 L382.40,1082.02 L383.26,1083.70 L384.12,1085.35 L384.98,1086.97 L385.84,1088.56 L386.70,1090.12 L387.56,1091.66 L388.42,1093.17 L389.28,1094.65 L390.14,1096.10 L391.00,1097.51 L391.87,1098.90 L392.73,1100.26 L393.59,1101.59 L394.45,1102.88 L395.31,1104.15 L396.17,1105.38 L397.03,1106.59 L397.89,1107.76 L398.75,1108.91 L399.61,1110.02 L400.47,1111.11 L401.33,1112.17 L402.20,1113.19 L403.06,1114.19 L403.92,1115.16 L404.78,1116.11 L405.64,1117.02 L406.50,1117.91 L407.36,1118.77 L408.22,1119.61 L409.08,1120.42 L409.94,1121.20 L410.80,1121.97 L411.67,1122.70 L412.53,1123.42 L413.39,1124.11 L414.25,1124.78 L415.11,1125.43 L415.97,1126.05 L416.83,1126.66 L417.69,1127.24 L418.55,1127.81 L419.41,1128.35 L420.27,1128.88 L421.13,1129.39 L422.00,1129.88 L422.86,1130.36 L423.72,1130.82 L424.58,1131.26 L425.44,1131.69 L426.30,1132.10 L427.16,1132.50 L428.02,1132.88 L428.88,1133.25 L429.74,1133.61 L430.60,1133.95 L431.47,1134.28 L432.33,1134.60 L433.19,1134.91" fill="none" stroke="#3c40a4" stroke-width="2.0" stroke-linejoin="round"/>
<rect x="202.65" y="943.85" width="11.7" height="11.7" fill="#da2f3b"/>
<rect x="245.55" y="915.45" width="11.7" height="11.7" fill="#da2f3b"/>
<rect x="288.45" y="909.25" width="11.7" height="11.7" fill="#da2f3b"/>
<rect x="331.35" y="935.15" width="11.7" height="11.7" fill="#da2f3b"/>
<rect x="374.25" y="940.25" width="11.7" height="11.7" fill="#da2f3b"/>
<rect x="395.70" y="992.25" width="11.7" height="11.7" fill="#da2f3b"/>
<rect x="417.15" y="1094.55" width="11.7" height="11.7" fill="#da2f3b"/>
<rect x="438.60" y="1113.45" width="11.7" height="11.7" fill="#da2f3b"/>
<rect x="460.05" y="1113.45" width="11.7" height="11.7" fill="#da2f3b"/>
<circle cx="208.50" cy="947.70" r="5.65" fill="#3c40a4"/>
<circle cx="251.40" cy="949.30" r="5.65" fill="#3c40a4"/>
<circle cx="294.30" cy="960.40" r="5.65" fill="#3c40a4"/>
<circle cx="337.20" cy="990.30" r="5.65" fill="#3c40a4"/>
<circle cx="380.10" cy="1075.80" r="5.65" fill="#3c40a4"/>
<circle cx="401.55" cy="1113.00" r="5.65" fill="#3c40a4"/>
<circle cx="423.00" cy="1135.80" r="5.65" fill="#3c40a4"/>
<circle cx="444.45" cy="1135.80" r="5.65" fill="#3c40a4"/>
<circle cx="465.90" cy="1135.80" r="5.65" fill="#3c40a4"/>
<path d="M85.80,940.60 L88.00,940.60 L88.00,955.50 L86.00,955.50 L86.00,942.90 L82.90,944.50 L82.10,943.10 Z" fill="#262626"/>
<path d="M85.80,847.55 L88.00,847.55 L88.00,862.45 L86.00,862.45 L86.00,849.85 L82.90,851.45 L82.10,850.05 Z" fill="#262626"/>
<rect x="112.20" y="1161.30" width="9.9" height="1.4" fill="#262626"/>
<rect x="198.00" y="1161.30" width="9.9" height="1.4" fill="#262626"/>
<rect x="283.80" y="1161.30" width="9.9" height="1.4" fill="#262626"/>
<rect x="369.60" y="1161.30" width="9.9" height="1.4" fill="#262626"/>
<rect x="455.40" y="1161.30" width="9.9" height="1.4" fill="#262626"/>
<rect x="541.20" y="1161.30" width="9.9" height="1.4" fill="#262626"/>
<line x1="526.00" y1="77.40" x2="552.40" y2="77.40" stroke="#3c40a4" stroke-width="2.2"/>
<circle cx="539.4" cy="77.3" r="5.6" fill="#3c40a4"/>
<line x1="526.00" y1="100.60" x2="552.40" y2="100.60" stroke="#da2f3b" stroke-width="2.2"/>
<rect x="533.9" y="94.8" width="11.2" height="11.2" fill="#da2f3b"/>
<text transform="translate(96.28 349.39) scale(0.9724 0.9792)" font-size="21">0</text>
<text transform="translate(80.33 256.64) scale(0.9124 0.9926)" font-size="21">0.5</text>
<text transform="translate(91.01 163.99) scale(0.9456 1.0127)" font-size="21">.0</text>
<text transform="translate(91.00 70.74) scale(0.8980 1.0140)" font-size="21">.5</text>
<text transform="translate(122.46 375.80) scale(1.0000 1.0000)" font-size="21">8</text>
<text transform="translate(208.15 375.80) scale(1.0000 1.0000)" font-size="21">7</text>
<text transform="translate(293.95 375.80) scale(1.0000 1.0000)" font-size="21">6</text>
<text transform="translate(379.96 375.80) scale(1.0000 1.0000)" font-size="21">5</text>
<text transform="translate(466.08 375.80) scale(1.0000 1.0000)" font-size="21">4</text>
<text transform="translate(551.56 375.80) scale(1.0000 1.0000)" font-size="21">3</text>
<text transform="translate(304.02 70.88) scale(0.9300 1.0262)" font-size="21">SW480</text>
<text transform="translate(280.88 408.13) scale(1.0401 1.0394)" font-size="21">log[drug],</text>
<text transform="translate(376.11 407.90) scale(1.1660 1.1040)" font-size="16">M</text>
<text transform="translate(67.10 240.21) rotate(-90) scale(1.0025 1.0445)" font-size="21">Viability</text>
<text transform="translate(49.06 407.87) scale(0.8884 0.9633)" font-size="24" font-weight="bold">a</text>
<text transform="translate(96.28 745.89) scale(0.9724 0.9792)" font-size="21">0</text>
<text transform="translate(80.33 652.84) scale(0.9124 0.9926)" font-size="21">0.5</text>
<text transform="translate(91.01 559.89) scale(0.9456 1.0127)" font-size="21">.0</text>
<text transform="translate(91.00 466.34) scale(0.8980 1.0140)" font-size="21">.5</text>
<text transform="translate(122.35 772.30) scale(1.0000 1.0000)" font-size="21">7</text>
<text transform="translate(229.60 772.30) scale(1.0000 1.0000)" font-size="21">6</text>
<text transform="translate(337.06 772.30) scale(1.0000 1.0000)" font-size="21">5</text>
<text transform="translate(444.63 772.30) scale(1.0000 1.0000)" font-size="21">4</text>
<text transform="translate(551.56 772.30) scale(1.0000 1.0000)" font-size="21">3</text>
<text transform="translate(314.00 466.79) scale(0.9524 1.0127)" font-size="21">205Lu</text>
<text transform="translate(280.88 804.63) scale(1.0401 1.0394)" font-size="21">log[drug],</text>
<text transform="translate(376.11 804.40) scale(1.1660 1.1040)" font-size="16">M</text>
<text transform="translate(67.10 636.71) rotate(-90) scale(1.0025 1.0445)" font-size="21">Viability</text>
<text transform="translate(47.37 803.46) scale(1.0479 1.0034)" font-size="24" font-weight="bold">b</text>
<text transform="translate(96.28 1141.49) scale(0.9724 0.9792)" font-size="21">0</text>
<text transform="translate(80.33 1048.54) scale(0.9124 0.9926)" font-size="21">0.5</text>
<text transform="translate(91.01 955.69) scale(0.9456 1.0127)" font-size="21">.0</text>
<text transform="translate(91.00 862.24) scale(0.8980 1.0140)" font-size="21">.5</text>
<text transform="translate(122.46 1167.90) scale(1.0000 1.0000)" font-size="21">8</text>
<text transform="translate(208.15 1167.90) scale(1.0000 1.0000)" font-size="21">7</text>
<text transform="translate(293.95 1167.90) scale(1.0000 1.0000)" font-size="21">6</text>
<text transform="translate(379.96 1167.90) scale(1.0000 1.0000)" font-size="21">5</text>
<text transform="translate(466.08 1167.90) scale(1.0000 1.0000)" font-size="21">4</text>
<text transform="translate(551.56 1167.90) scale(1.0000 1.0000)" font-size="21">3</text>
<text transform="translate(312.32 862.89) scale(0.9187 0.9859)" font-size="21">T98G</text>
<text transform="translate(280.88 1200.23) scale(1.0401 1.0394)" font-size="21">log[drug],</text>
<text transform="translate(376.11 1200.00) scale(1.1660 1.1040)" font-size="16">M</text>
<text transform="translate(67.10 1032.31) rotate(-90) scale(1.0025 1.0445)" font-size="21">Viability</text>
<text transform="translate(49.60 1199.87) scale(0.8333 0.9786)" font-size="24" font-weight="bold">c</text>
<text transform="translate(557.27 83.00) scale(0.9280 0.9859)" font-size="20">CBD</text>
<text transform="translate(557.05 107.00) scale(0.9454 1.0000)" font-size="20">CBD</text>
<text transform="translate(602.82 106.89) scale(1.1006 1.0340)" font-size="20">oil</text>
<text transform="translate(630.71 107.10) scale(0.9318 1.0146)" font-size="20">A</text>
</svg>
</body></html>
